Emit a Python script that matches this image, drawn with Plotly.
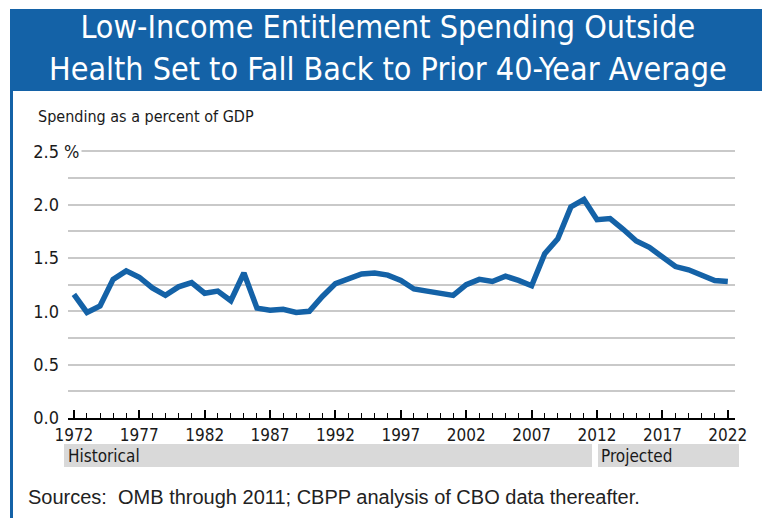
import plotly.graph_objects as go

# Low-income entitlement spending outside health, percent of GDP
years = list(range(1972, 2023))
spending = [
    1.16, 0.99, 1.05, 1.30, 1.38, 1.32, 1.22, 1.15, 1.23, 1.27,
    1.17, 1.19, 1.10, 1.36, 1.03, 1.01, 1.02, 0.99, 1.00, 1.14,
    1.26, 1.31, 1.35, 1.36, 1.34, 1.29, 1.21, 1.19, 1.17, 1.15,
    1.25, 1.30, 1.28, 1.33, 1.29, 1.24, 1.54, 1.68, 1.98, 2.05,
    1.86, 1.87, 1.77, 1.66, 1.60, 1.51, 1.42, 1.39, 1.34, 1.29,
    1.28,
]
year_ticks = list(range(1972, 2023, 5))
y_ticks = [0.0, 0.5, 1.0, 1.5, 2.0, 2.5]
y_tick_text = ["0.0", "0.5", "1.0", "1.5", "2.0", "2.5"]

W, H = 762, 518
L, R, T, B = 68, 27, 145, 100
PW, PH = W - L - R, H - T - B

def px(x):
    return (x - L) / PW

def py(y):
    return (H - B - y) / PH

BLUE = "#1462a7"
NARROW = "DejaVu Sans Condensed, Liberation Sans Narrow, Arial Narrow, sans-serif"
TEXT = "#1a1a1a"

fig = go.Figure()
fig.add_trace(go.Scatter(
    x=years, y=spending, mode="lines",
    line=dict(color=BLUE, width=5.5, shape="linear"),
    hoverinfo="x+y", showlegend=False,
))

fig.update_layout(
    width=W, height=H,
    margin=dict(l=L, r=R, t=T, b=B),
    paper_bgcolor="white", plot_bgcolor="white",
    xaxis=dict(
        range=[1971.55, 2022.55],
        tickvals=year_ticks,
        ticks="inside", ticklen=8, tickwidth=1.6, tickcolor="black",
        minor=dict(dtick=1, tick0=1972, ticks="inside", ticklen=5,
                   tickwidth=1.2, tickcolor="black", showgrid=False),
        showline=True, linecolor="black", linewidth=2.2,
        showgrid=False, zeroline=False,
        tickfont=dict(family=NARROW, size=17, color=TEXT),
        ticklabelstandoff=0,
        fixedrange=True,
    ),
    yaxis=dict(
        range=[0, 2.56],
        tickvals=y_ticks, ticktext=y_tick_text,
        ticks="", showline=False, zeroline=False,
        showgrid=True, gridcolor="#c9c9c9", gridwidth=1.6,
        minor=dict(dtick=0.25, tick0=0, showgrid=True,
                   gridcolor="#c9c9c9", gridwidth=1.6),
        tickfont=dict(family=NARROW, size=18, color=TEXT),
        ticklabelstandoff=8,
        fixedrange=True,
    ),
)

shapes = [
    # title banner
    dict(type="rect", xref="paper", yref="paper",
         x0=px(10), x1=px(762), y0=py(91), y1=py(9),
         fillcolor=BLUE, line=dict(width=0), layer="below"),
    # left border rule
    dict(type="rect", xref="paper", yref="paper",
         x0=px(10), x1=px(13), y0=py(518), y1=py(91),
         fillcolor=BLUE, line=dict(width=0), layer="below"),
    # period bands
    dict(type="rect", xref="paper", yref="paper",
         x0=px(64), x1=px(592), y0=py(467), y1=py(444),
         fillcolor="#d9d9d9", line=dict(width=0), layer="below"),
    dict(type="rect", xref="paper", yref="paper",
         x0=px(598), x1=px(739), y0=py(467), y1=py(444),
         fillcolor="#d9d9d9", line=dict(width=0), layer="below"),
]
fig.update_layout(shapes=shapes)

annotations = [
    dict(text="Low-Income Entitlement Spending Outside<br>Health Set to Fall Back to Prior 40-Year Average",
         xref="paper", yref="paper", x=px(388), y=py(48),
         xanchor="center", yanchor="middle", showarrow=False,
         font=dict(family=NARROW, size=32, color="white"), align="center"),
    dict(text="Spending as a percent of GDP",
         xref="paper", yref="paper", x=px(36), y=py(117),
         xanchor="left", yanchor="middle", showarrow=False,
         font=dict(family=NARROW, size=16, color=TEXT)),
    dict(text="%",
         xref="paper", yref="y", x=px(61), y=2.5,
         xanchor="left", yanchor="middle", showarrow=False,
         bgcolor="white", borderpad=2,
         font=dict(family=NARROW, size=18, color=TEXT)),
    dict(text="Historical",
         xref="paper", yref="paper", x=px(66), y=py(456),
         xanchor="left", yanchor="middle", showarrow=False,
         font=dict(family=NARROW, size=17, color=TEXT)),
    dict(text="Projected",
         xref="paper", yref="paper", x=px(599), y=py(456),
         xanchor="left", yanchor="middle", showarrow=False,
         font=dict(family=NARROW, size=17, color=TEXT)),
    dict(text="Sources:&nbsp; OMB through 2011; CBPP analysis of CBO data thereafter.",
         xref="paper", yref="paper", x=px(26), y=py(497),
         xanchor="left", yanchor="middle", showarrow=False,
         font=dict(family="Liberation Sans, Arial, sans-serif", size=20, color="#222222")),
]
fig.update_layout(annotations=annotations)

fig.write_html("out.html")
